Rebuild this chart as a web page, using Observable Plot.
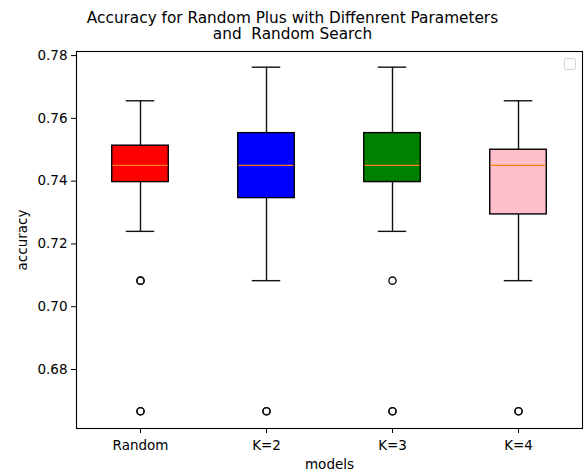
<!DOCTYPE html>
<html>
<head>
<meta charset="utf-8">
<script src="https://cdn.jsdelivr.net/npm/d3@7"></script>
<script src="https://cdn.jsdelivr.net/npm/@observablehq/plot@0.6"></script>
<style>
  body { margin: 0; background: #fff; font-family: "DejaVu Sans", sans-serif; }
  #fig { position: relative; width: 585px; height: 476px; }
  #title { position: absolute; left: 0; width: 585px; top: 11px; text-align: center;
           font-size: 15.3px; line-height: 15.5px; color: #000; white-space: pre; }
  #legend { position: absolute; left: 564px; top: 58px; width: 10px; height: 10px;
            border: 1px solid #d6d6d6; border-radius: 2px; background: #fff; }
</style>
</head>
<body>
<div id="fig">
  <div id="chart"></div>
  <div id="title">Accuracy for Random Plus with Diffenrent Parameters
and  Random Search</div>
  <div id="legend"></div>
</div>
<script>
// Box statistics for each model (accuracy)
const models      = ["Random", "K=2", "K=3", "K=4"];
const whiskerHigh = [0.7656, 0.7763, 0.7763, 0.7656];
const q3          = [0.7513, 0.7553, 0.7553, 0.7500];
const medians     = [0.7450, 0.7450, 0.7450, 0.7450];
const q1          = [0.7397, 0.7346, 0.7397, 0.7294];
const whiskerLow  = [0.7240, 0.7083, 0.7240, 0.7083];
const boxColors   = ["red", "blue", "green", "pink"];

// Fliers beyond the whiskers (repeated runs land on the same value)
const outlierModels = ["Random", "Random", "Random", "Random", "K=2", "K=2", "K=3", "K=3", "K=3", "K=4", "K=4"];
const outlierValues = [0.7083, 0.7083, 0.6667, 0.6667, 0.6667, 0.6667, 0.7083, 0.6667, 0.6667, 0.6667, 0.6667];

const yTicks = [0.68, 0.70, 0.72, 0.74, 0.76, 0.78];

const stats = models.map((m, i) => ({
  model: m, hi: whiskerHigh[i], q3: q3[i], med: medians[i],
  q1: q1[i], lo: whiskerLow[i], color: boxColors[i]
}));
const fliers = outlierModels.map((m, i) => ({ model: m, value: outlierValues[i] }));

const boxInset = 34.75;   // box half-width ~ 0.45 of the slot
const capInset = 48.75;   // caps half the box width

const chart = Plot.plot({
  width: 585,
  height: 476,
  marginTop: 51,
  marginBottom: 48,
  marginLeft: 76,
  marginRight: 3,
  style: { fontFamily: "DejaVu Sans, sans-serif", fontSize: "13.5px", color: "#000", background: "#fff" },
  x: { type: "band", domain: models, padding: 0 },
  y: { domain: [0.6612, 0.7813] },
  marks: [
    Plot.ruleX(stats, { x: "model", y1: "q3", y2: "hi", stroke: "#111", strokeWidth: 1.4 }),
    Plot.ruleX(stats, { x: "model", y1: "lo", y2: "q1", stroke: "#111", strokeWidth: 1.4 }),
    Plot.tickY(stats, { x: "model", y: "hi", stroke: "#111", strokeWidth: 1.4, insetLeft: capInset, insetRight: capInset }),
    Plot.tickY(stats, { x: "model", y: "lo", stroke: "#111", strokeWidth: 1.4, insetLeft: capInset, insetRight: capInset }),
    Plot.barY(stats, { x: "model", y1: "q1", y2: "q3", fill: d => d.color, stroke: "#000",
                       strokeWidth: 1.4, insetLeft: boxInset, insetRight: boxInset }),
    Plot.tickY(stats, { x: "model", y: "med", stroke: "#ff7f0e", strokeWidth: 1.2,
                        insetLeft: boxInset + 0.7, insetRight: boxInset + 0.7 }),
    Plot.dot(fliers, { x: "model", y: "value", r: 3.6, stroke: "#111", strokeWidth: 1.4, fill: "none" }),
    Plot.frame({ stroke: "#000", strokeWidth: 1.1 }),
    Plot.axisY({ ticks: yTicks, tickFormat: ".2f", tickSize: 5, tickPadding: 4,
                 label: "accuracy", labelAnchor: "center", labelArrow: "none", labelOffset: 59 }),
    Plot.axisX({ tickSize: 5, tickPadding: 7, label: "models", labelAnchor: "center",
                 labelArrow: "none", labelOffset: 40 })
  ]
});
document.getElementById("chart").appendChild(chart);
</script>
</body>
</html>
